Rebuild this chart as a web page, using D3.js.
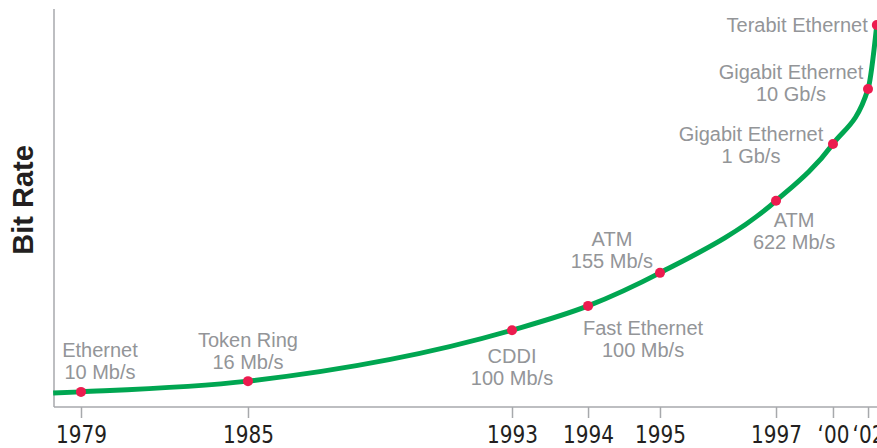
<!DOCTYPE html>
<html>
<head>
<meta charset="utf-8">
<script src="https://cdn.jsdelivr.net/npm/d3@7/dist/d3.min.js"></script>
<style>
  html, body { margin: 0; padding: 0; background: #fff; }
  svg { display: block; }
</style>
</head>
<body>
<svg id="chart" width="877" height="448"></svg>
<script>
// ---- Data ----
const technologies = ["Ethernet", "Token Ring", "CDDI", "Fast Ethernet", "ATM", "ATM",
                      "Gigabit Ethernet", "Gigabit Ethernet", "Terabit Ethernet"];
const rates = ["10 Mb/s", "16 Mb/s", "100 Mb/s", "100 Mb/s", "155 Mb/s", "622 Mb/s",
               "1 Gb/s", "10 Gb/s", ""];
const years = [1979, 1985, 1993, 1994, 1995, 1997, 2000, 2002, 2002.5];
// relative bit-rate level on the schematic (unlabelled) vertical axis, 0-100
const levels = [3.8, 6.5, 19.3, 25.4, 33.7, 51.8, 66.1, 79.9, 96.0];
const curveStartYear = 1978;
const curveStartLevel = 3.5;
const tickYears = [1979, 1985, 1993, 1994, 1995, 1997, 2000, 2002];
const tickLabels = ["1979", "1985", "1993", "1994", "1995", "1997", "\u201800", "\u201802"];
const yAxisTitle = "Bit Rate";

// ---- Layout (schematic axis stops as fractions of plot width) ----
const axisStops = [0.0328, 0.2357, 0.5565, 0.6489, 0.7363, 0.8773, 0.9465, 0.9891];
const labelDx = [19, 0, 0, 55, -48, 18, -82, -77, -9];
const labelDy = [-35, -34, 33, 29, -27, 26, -3, -10, 7];
const labelAnchor = ["middle", "middle", "middle", "middle", "middle", "middle", "middle", "middle", "end"];

const W = 877, H = 448;
const margin = { left: 54, right: 0, top: 9, bottom: 41 };
const pw = W - margin.left - margin.right;
const ph = H - margin.top - margin.bottom;

const svg = d3.select("#chart");
const g = svg.append("g").attr("transform", `translate(${margin.left},${margin.top})`);

const x = d3.scaleLinear().domain(tickYears).range(axisStops.map(f => f * pw));
const y = d3.scaleLinear().domain([0, 100]).range([ph, 0]);

const axisColor = "#a7a9ac";

// left axis line
g.append("line")
  .attr("x1", 0).attr("x2", 0)
  .attr("y1", y.range()[1]).attr("y2", y.range()[0])
  .attr("stroke", axisColor).attr("stroke-width", 1.5);

// bottom axis
g.append("line")
  .attr("x1", 0).attr("x2", pw)
  .attr("y1", ph).attr("y2", ph)
  .attr("stroke", axisColor).attr("stroke-width", 1.5);

const xAxis = d3.axisBottom(x)
  .tickValues(tickYears)
  .tickFormat((d, i) => tickLabels[i])
  .tickSizeInner(11).tickSizeOuter(0);

const ax = g.append("g").attr("transform", `translate(0,${ph})`).call(xAxis);
ax.select(".domain").remove();
ax.selectAll(".tick line").attr("stroke", axisColor).attr("stroke-width", 1.5);
ax.selectAll(".tick text")
  .attr("y", 36).attr("dy", 0)
  .attr("transform", "scale(0.89,1)")
  .attr("fill", "#231f20")
  .style("font-family", "'Liberation Sans Narrow', 'Arial Narrow', 'DejaVu Sans Condensed', sans-serif")
  .style("font-size", "25px");

// y axis title
svg.append("text")
  .attr("transform", `translate(33,200) rotate(-90)`)
  .attr("text-anchor", "middle")
  .attr("fill", "#231f20")
  .style("font-family", "'Liberation Sans Narrow', 'Arial Narrow', sans-serif")
  .style("font-weight", "bold")
  .style("font-size", "29px")
  .text(yAxisTitle);

// curve
const curvePts = [[curveStartYear, curveStartLevel]].concat(years.map((yr, i) => [yr, levels[i]]));
const line = d3.line()
  .x(d => x(d[0]))
  .y(d => y(d[1]))
  .curve(d3.curveMonotoneX);

g.append("path")
  .datum(curvePts)
  .attr("d", line)
  .attr("fill", "none")
  .attr("stroke", "#00a651")
  .attr("stroke-width", 5)
  .attr("stroke-linecap", "butt");

// dots
g.selectAll("circle.pt")
  .data(years)
  .join("circle")
  .attr("class", "pt")
  .attr("cx", d => x(d))
  .attr("cy", (d, i) => y(levels[i]))
  .attr("r", 5)
  .attr("fill", "#ec1c4f");

// labels
const lab = g.selectAll("text.lab")
  .data(technologies)
  .join("text")
  .attr("class", "lab")
  .attr("text-anchor", (d, i) => labelAnchor[i])
  .attr("fill", "#939598")
  .style("font-family", "'Liberation Sans', Arial, sans-serif")
  .style("font-size", "20px");

lab.each(function (d, i) {
  const t = d3.select(this);
  const cx = x(years[i]) + labelDx[i];
  const cy = y(levels[i]) + labelDy[i];
  t.append("tspan").attr("x", cx).attr("y", cy).text(d);
  if (rates[i]) t.append("tspan").attr("x", cx).attr("y", cy + 22).text(rates[i]);
});
</script>
</body>
</html>
